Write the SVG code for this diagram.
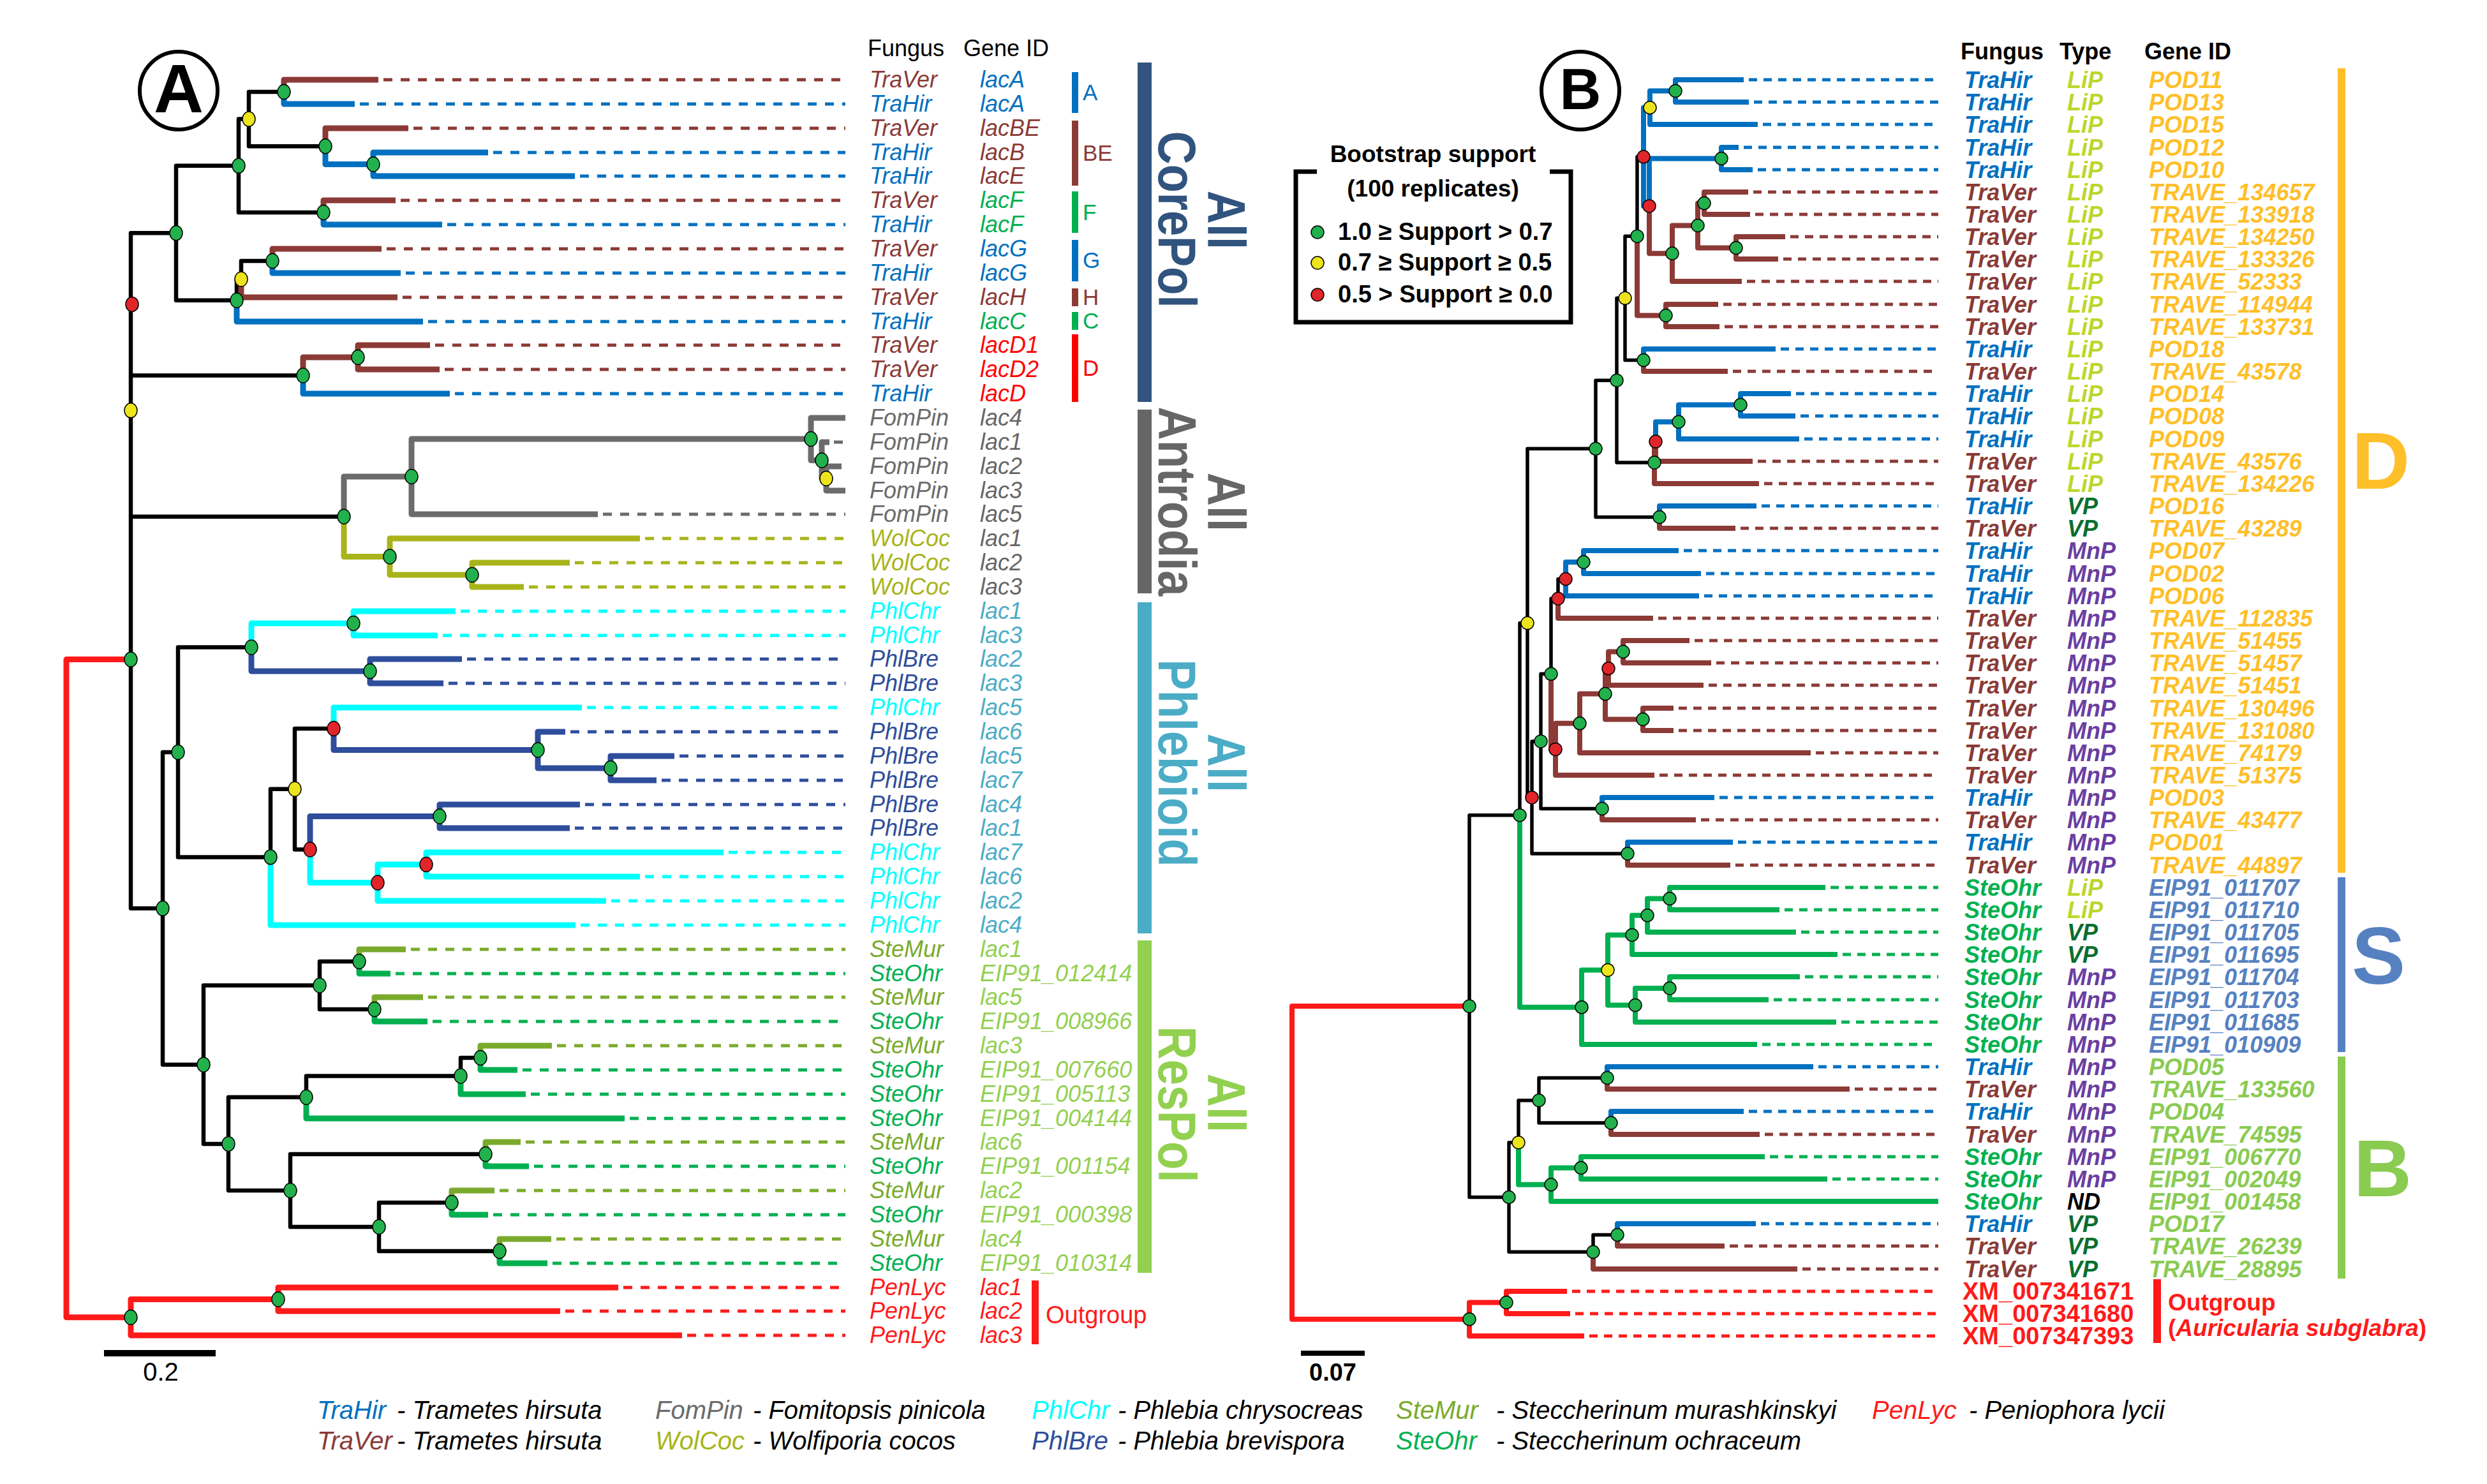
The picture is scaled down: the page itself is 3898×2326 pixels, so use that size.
<svg xmlns="http://www.w3.org/2000/svg" width="3898" height="2326" viewBox="0 0 3898 2326">
<style>
text{font-family:"Liberation Sans",Arial,sans-serif}
.la{font-size:36px;font-style:italic}
.lb{font-size:36px;font-style:italic;font-weight:bold}
.hd{font-size:36px}
.hb{font-size:36px;font-weight:bold}
.big{font-size:84px;font-weight:bold}
.ft{font-size:40px;font-style:italic}
.b{fill:none;stroke-width:9;stroke-linejoin:round}
.k{stroke:#000;stroke-width:6.5}
#tree-b .b{stroke-width:8}
#tree-b .k{stroke-width:5.5}
.d{fill:none;stroke-width:5;stroke-dasharray:14 13}
.db{fill:none;stroke-width:5;stroke-dasharray:13 10}
.tv{stroke:#8B3A36}.th{stroke:#0070C0}.fp{stroke:#6B6B6B}.wc{stroke:#A8B41A}.pc{stroke:#00FFFF}.pb{stroke:#2E4D9B}.sm{stroke:#7AAA2C}.so{stroke:#00B050}.pl{stroke:#FF1A1A}
.dots ellipse,.dots circle{stroke:#000;stroke-width:1.5}
.g{fill:#22B14C}.y{fill:#EDE51C}.r{fill:#E0262A}
.ctv{fill:#8B3A36}.cth{fill:#0070C0}.cfp{fill:#6B6B6B}.cwc{fill:#A8B41A}.cpc{fill:#00FFFF}.cpb{fill:#2E4D9B}.csm{fill:#7AAA2C}.cso{fill:#00B050}.cpl{fill:#FF1A1A}
.cred{fill:#FF0000}.cgr{fill:#666666}.cteal{fill:#4BACC6}.clg{fill:#92D050}.cgrn{fill:#00B050}
.clip{fill:#BCD62C}.cvp{fill:#0A6E2E}.cmnp{fill:#6A3EA1}.cnd{fill:#000}.cD{fill:#FFBF2A}.cS{fill:#5681C0}.cB{fill:#8ACB52}
</style>
<rect width="3898" height="2326" fill="#fff"/>

<!-- ================= PANEL A ================= -->
<g id="label-a">
<circle cx="280" cy="142" r="61" fill="none" stroke="#000" stroke-width="6"/>
<text x="280" y="176" font-size="108" font-weight="bold" text-anchor="middle">A</text>
</g>
<g id="header-a" class="hd"><text x="1360" y="88">Fungus</text><text x="1510" y="88">Gene ID</text></g>

<g id="tree-a">
<path class="b k" d="M390 186.6V144H445M390 186.6V229.25H510M374 259.8V186.6H390M374 259.8V333H507M378 437.5V409H427M371 470.75V437.5H378M276 365.3V259.8H374M276 365.3V470.75H371M205 476.9V365.3H276M205 476.9V588.5H475M205 643.3V476.9M205 643.3V809.75H539M462 1236.75V1142H523M462 1236.75V1331.5H486M424 1343.4V1236.75H462M279 1179V1014.5H394M279 1179V1343.4H424M501 1544.5V1507H563M501 1544.5V1582H587M722 1686.5V1658H753M480 1719.75V1686.5H722M594 1923V1885H708M594 1923V1961H783M455 1866V1809H761M455 1866V1923H594M358 1792.9V1719.75H480M358 1792.9V1866H455M319 1668.7V1544.5H501M319 1668.7V1792.9H358M255 1423.85V1179H279M255 1423.85V1668.7H319M205 1033.6V643.3M205 1033.6V1423.85H255"/>
<path class="b tv" d="M445 144V125H593M510 229.25V201H640M507 333V314H620M427 409V390H598M378 437.5V466H623M561 560V541H674M561 560V579H689M475 588.5V560H561"/>
<path class="b th" d="M445 144V163H556M585 257.5V239H765M585 257.5V276H901M510 229.25V257.5H585M507 333V352H693M427 409V428H628M371 470.75V504H663M475 588.5V617H705"/>
<path class="b fp" stroke-width="7" d="M1295 750V731H1319M1295 750V769H1325M1288 721.5V693H1300M1288 721.5V750H1295M1271 688V655H1325M1271 688V721.5H1288M645 747V688H1271M645 747V806H937M539 809.75V747H645"/>
<path class="b wc" d="M740 901V882H893M740 901V920H821M611 872.5V844H1003M611 872.5V901H740M539 809.75V872.5H611"/>
<path class="b pc" d="M554 977V958H714M554 977V996H686M394 1014.5V977H554M523 1142V1109H912M668 1355V1336H1134M668 1355V1374H1003M592 1383.5V1355H668M592 1383.5V1412H950M486 1331.5V1383.5H592M424 1343.4V1450H902"/>
<path class="b pb" d="M580 1052V1033H724M580 1052V1071H695M394 1014.5V1052H580M957 1204V1185H1057M957 1204V1223H1029M843 1175.5V1147H886M843 1175.5V1204H957M523 1142V1175.5H843M689 1279.5V1261H909M689 1279.5V1298H893M486 1331.5V1279.5H689"/>
<path class="b sm" d="M563 1507V1488H636M587 1582V1563H663M753 1658V1639H865M761 1809V1790H816M708 1885V1866H775M783 1961V1942H864"/>
<path class="b so" d="M563 1507V1526H612M587 1582V1601H670M753 1658V1677H811M722 1686.5V1715H824M480 1719.75V1753H979M761 1809V1828H829M708 1885V1904H765M783 1961V1980H858"/>
<path class="b pl" d="M436 2036.5V2018H969M436 2036.5V2055H878M205 2064.75V2036.5H436M205 2064.75V2093H1069"/>
<path class="b pl" stroke-width="8" d="M205 1033.6H104V2064.75H205"/>
<path class="d tv" d="M601 125H1325M648 201H1325M628 314H1325M606 390H1325M631 466H1325M682 541H1325M697 579H1325"/>
<path class="d th" d="M564 163H1325M773 239H1325M909 276H1325M701 352H1325M636 428H1325M671 504H1325M713 617H1325"/>
<path class="d fp" d="M1307 693H1325M945 806H1325"/>
<path class="d wc" d="M1011 844H1325M901 882H1325M829 920H1325"/>
<path class="d pc" d="M722 958H1325M694 996H1325M920 1109H1325M1142 1336H1325M1011 1374H1325M958 1412H1325M910 1450H1325"/>
<path class="d pb" d="M732 1033H1325M703 1071H1325M894 1147H1325M1065 1185H1325M1037 1223H1325M917 1261H1325M901 1298H1325"/>
<path class="d sm" d="M644 1488H1325M671 1563H1325M873 1639H1325M824 1790H1325M783 1866H1325M872 1942H1325"/>
<path class="d so" d="M620 1526H1325M678 1601H1325M819 1677H1325M832 1715H1325M987 1753H1325M837 1828H1325M773 1904H1325M866 1980H1325"/>
<path class="d pl" d="M977 2018H1325M886 2055H1325M1077 2093H1325"/>
</g>

<g id="nodes-a" class="dots">
<ellipse class="g" cx="445" cy="144" rx="10" ry="11.5"/><ellipse class="g" cx="585" cy="257.5" rx="10" ry="11.5"/><ellipse class="g" cx="510" cy="229.25" rx="10" ry="11.5"/><ellipse class="y" cx="390" cy="186.6" rx="10" ry="11.5"/><ellipse class="g" cx="507" cy="333" rx="10" ry="11.5"/><ellipse class="g" cx="374" cy="259.8" rx="10" ry="11.5"/><ellipse class="g" cx="427" cy="409" rx="10" ry="11.5"/><ellipse class="y" cx="378" cy="437.5" rx="10" ry="11.5"/><ellipse class="g" cx="371" cy="470.75" rx="10" ry="11.5"/><ellipse class="g" cx="276" cy="365.3" rx="10" ry="11.5"/><ellipse class="g" cx="561" cy="560" rx="10" ry="11.5"/><ellipse class="g" cx="475" cy="588.5" rx="10" ry="11.5"/><ellipse class="r" cx="207" cy="476.9" rx="10" ry="11.5"/><ellipse class="y" cx="205" cy="643.3" rx="10" ry="11.5"/><ellipse class="g" cx="205" cy="1033.6" rx="10" ry="11.5"/>
<ellipse class="g" cx="1271" cy="688" rx="10" ry="11.5"/><ellipse class="g" cx="1288" cy="721.5" rx="10" ry="11.5"/><ellipse class="y" cx="1295" cy="750" rx="10" ry="11.5"/><ellipse class="g" cx="645" cy="747" rx="10" ry="11.5"/><ellipse class="g" cx="611" cy="872.5" rx="10" ry="11.5"/><ellipse class="g" cx="740" cy="901" rx="10" ry="11.5"/><ellipse class="g" cx="539" cy="809.75" rx="10" ry="11.5"/>
<ellipse class="g" cx="554" cy="977" rx="10" ry="11.5"/><ellipse class="g" cx="580" cy="1052" rx="10" ry="11.5"/><ellipse class="g" cx="394" cy="1014.5" rx="10" ry="11.5"/><ellipse class="r" cx="523" cy="1142" rx="10" ry="11.5"/><ellipse class="g" cx="843" cy="1175.5" rx="10" ry="11.5"/><ellipse class="g" cx="957" cy="1204" rx="10" ry="11.5"/><ellipse class="y" cx="462" cy="1236.75" rx="10" ry="11.5"/><ellipse class="r" cx="486" cy="1331.5" rx="10" ry="11.5"/><ellipse class="g" cx="689" cy="1279.5" rx="10" ry="11.5"/><ellipse class="r" cx="592" cy="1383.5" rx="10" ry="11.5"/><ellipse class="r" cx="668" cy="1355" rx="10" ry="11.5"/><ellipse class="g" cx="424" cy="1343.4" rx="10" ry="11.5"/><ellipse class="g" cx="279" cy="1179" rx="10" ry="11.5"/>
<ellipse class="g" cx="563" cy="1507" rx="10" ry="11.5"/><ellipse class="g" cx="587" cy="1582" rx="10" ry="11.5"/><ellipse class="g" cx="501" cy="1544.5" rx="10" ry="11.5"/><ellipse class="g" cx="753" cy="1658" rx="10" ry="11.5"/><ellipse class="g" cx="722" cy="1686.5" rx="10" ry="11.5"/><ellipse class="g" cx="480" cy="1719.75" rx="10" ry="11.5"/><ellipse class="g" cx="761" cy="1809" rx="10" ry="11.5"/><ellipse class="g" cx="708" cy="1885" rx="10" ry="11.5"/><ellipse class="g" cx="783" cy="1961" rx="10" ry="11.5"/><ellipse class="g" cx="594" cy="1923" rx="10" ry="11.5"/><ellipse class="g" cx="455" cy="1866" rx="10" ry="11.5"/><ellipse class="g" cx="358" cy="1792.9" rx="10" ry="11.5"/><ellipse class="g" cx="319" cy="1668.7" rx="10" ry="11.5"/><ellipse class="g" cx="255" cy="1423.85" rx="10" ry="11.5"/>
<ellipse class="g" cx="436" cy="2036.5" rx="10" ry="11.5"/><ellipse class="g" cx="205" cy="2064.75" rx="10" ry="11.5"/>
</g>

<g id="leaves-a" class="la">
<g id="a-r0"><text y="137"><tspan x="1363" class="ctv">TraVer</tspan><tspan x="1536" class="cth">lacA</tspan></text></g>
<g id="a-r1"><text y="175"><tspan x="1363" class="cth">TraHir</tspan><tspan x="1536" class="cth">lacA</tspan></text></g>
<g id="a-r2"><text y="213"><tspan x="1363" class="ctv">TraVer</tspan><tspan x="1536" class="ctv">lacBE</tspan></text></g>
<g id="a-r3"><text y="251"><tspan x="1363" class="cth">TraHir</tspan><tspan x="1536" class="ctv">lacB</tspan></text></g>
<g id="a-r4"><text y="288"><tspan x="1363" class="cth">TraHir</tspan><tspan x="1536" class="ctv">lacE</tspan></text></g>
<g id="a-r5"><text y="326"><tspan x="1363" class="ctv">TraVer</tspan><tspan x="1536" class="cgrn">lacF</tspan></text></g>
<g id="a-r6"><text y="364"><tspan x="1363" class="cth">TraHir</tspan><tspan x="1536" class="cgrn">lacF</tspan></text></g>
<g id="a-r7"><text y="402"><tspan x="1363" class="ctv">TraVer</tspan><tspan x="1536" class="cth">lacG</tspan></text></g>
<g id="a-r8"><text y="440"><tspan x="1363" class="cth">TraHir</tspan><tspan x="1536" class="cth">lacG</tspan></text></g>
<g id="a-r9"><text y="478"><tspan x="1363" class="ctv">TraVer</tspan><tspan x="1536" class="ctv">lacH</tspan></text></g>
<g id="a-r10"><text y="516"><tspan x="1363" class="cth">TraHir</tspan><tspan x="1536" class="cgrn">lacC</tspan></text></g>
<g id="a-r11"><text y="553"><tspan x="1363" class="ctv">TraVer</tspan><tspan x="1536" class="cred">lacD1</tspan></text></g>
<g id="a-r12"><text y="591"><tspan x="1363" class="ctv">TraVer</tspan><tspan x="1536" class="cred">lacD2</tspan></text></g>
<g id="a-r13"><text y="629"><tspan x="1363" class="cth">TraHir</tspan><tspan x="1536" class="cred">lacD</tspan></text></g>
<g id="a-r14"><text y="667"><tspan x="1363" class="cfp">FomPin</tspan><tspan x="1536" class="cgr">lac4</tspan></text></g>
<g id="a-r15"><text y="705"><tspan x="1363" class="cfp">FomPin</tspan><tspan x="1536" class="cgr">lac1</tspan></text></g>
<g id="a-r16"><text y="743"><tspan x="1363" class="cfp">FomPin</tspan><tspan x="1536" class="cgr">lac2</tspan></text></g>
<g id="a-r17"><text y="781"><tspan x="1363" class="cfp">FomPin</tspan><tspan x="1536" class="cgr">lac3</tspan></text></g>
<g id="a-r18"><text y="818"><tspan x="1363" class="cfp">FomPin</tspan><tspan x="1536" class="cgr">lac5</tspan></text></g>
<g id="a-r19"><text y="856"><tspan x="1363" class="cwc">WolCoc</tspan><tspan x="1536" class="cgr">lac1</tspan></text></g>
<g id="a-r20"><text y="894"><tspan x="1363" class="cwc">WolCoc</tspan><tspan x="1536" class="cgr">lac2</tspan></text></g>
<g id="a-r21"><text y="932"><tspan x="1363" class="cwc">WolCoc</tspan><tspan x="1536" class="cgr">lac3</tspan></text></g>
<g id="a-r22"><text y="970"><tspan x="1363" class="cpc">PhlChr</tspan><tspan x="1536" class="cteal">lac1</tspan></text></g>
<g id="a-r23"><text y="1008"><tspan x="1363" class="cpc">PhlChr</tspan><tspan x="1536" class="cteal">lac3</tspan></text></g>
<g id="a-r24"><text y="1045"><tspan x="1363" class="cpb">PhlBre</tspan><tspan x="1536" class="cteal">lac2</tspan></text></g>
<g id="a-r25"><text y="1083"><tspan x="1363" class="cpb">PhlBre</tspan><tspan x="1536" class="cteal">lac3</tspan></text></g>
<g id="a-r26"><text y="1121"><tspan x="1363" class="cpc">PhlChr</tspan><tspan x="1536" class="cteal">lac5</tspan></text></g>
<g id="a-r27"><text y="1159"><tspan x="1363" class="cpb">PhlBre</tspan><tspan x="1536" class="cteal">lac6</tspan></text></g>
<g id="a-r28"><text y="1197"><tspan x="1363" class="cpb">PhlBre</tspan><tspan x="1536" class="cteal">lac5</tspan></text></g>
<g id="a-r29"><text y="1235"><tspan x="1363" class="cpb">PhlBre</tspan><tspan x="1536" class="cteal">lac7</tspan></text></g>
<g id="a-r30"><text y="1273"><tspan x="1363" class="cpb">PhlBre</tspan><tspan x="1536" class="cteal">lac4</tspan></text></g>
<g id="a-r31"><text y="1310"><tspan x="1363" class="cpb">PhlBre</tspan><tspan x="1536" class="cteal">lac1</tspan></text></g>
<g id="a-r32"><text y="1348"><tspan x="1363" class="cpc">PhlChr</tspan><tspan x="1536" class="cteal">lac7</tspan></text></g>
<g id="a-r33"><text y="1386"><tspan x="1363" class="cpc">PhlChr</tspan><tspan x="1536" class="cteal">lac6</tspan></text></g>
<g id="a-r34"><text y="1424"><tspan x="1363" class="cpc">PhlChr</tspan><tspan x="1536" class="cteal">lac2</tspan></text></g>
<g id="a-r35"><text y="1462"><tspan x="1363" class="cpc">PhlChr</tspan><tspan x="1536" class="cteal">lac4</tspan></text></g>
<g id="a-r36"><text y="1500"><tspan x="1363" class="csm">SteMur</tspan><tspan x="1536" class="clg">lac1</tspan></text></g>
<g id="a-r37"><text y="1538"><tspan x="1363" class="cso">SteOhr</tspan><tspan x="1536" class="clg">EIP91_012414</tspan></text></g>
<g id="a-r38"><text y="1575"><tspan x="1363" class="csm">SteMur</tspan><tspan x="1536" class="clg">lac5</tspan></text></g>
<g id="a-r39"><text y="1613"><tspan x="1363" class="cso">SteOhr</tspan><tspan x="1536" class="clg">EIP91_008966</tspan></text></g>
<g id="a-r40"><text y="1651"><tspan x="1363" class="csm">SteMur</tspan><tspan x="1536" class="clg">lac3</tspan></text></g>
<g id="a-r41"><text y="1689"><tspan x="1363" class="cso">SteOhr</tspan><tspan x="1536" class="clg">EIP91_007660</tspan></text></g>
<g id="a-r42"><text y="1727"><tspan x="1363" class="cso">SteOhr</tspan><tspan x="1536" class="clg">EIP91_005113</tspan></text></g>
<g id="a-r43"><text y="1765"><tspan x="1363" class="cso">SteOhr</tspan><tspan x="1536" class="clg">EIP91_004144</tspan></text></g>
<g id="a-r44"><text y="1802"><tspan x="1363" class="csm">SteMur</tspan><tspan x="1536" class="clg">lac6</tspan></text></g>
<g id="a-r45"><text y="1840"><tspan x="1363" class="cso">SteOhr</tspan><tspan x="1536" class="clg">EIP91_001154</tspan></text></g>
<g id="a-r46"><text y="1878"><tspan x="1363" class="csm">SteMur</tspan><tspan x="1536" class="clg">lac2</tspan></text></g>
<g id="a-r47"><text y="1916"><tspan x="1363" class="cso">SteOhr</tspan><tspan x="1536" class="clg">EIP91_000398</tspan></text></g>
<g id="a-r48"><text y="1954"><tspan x="1363" class="csm">SteMur</tspan><tspan x="1536" class="clg">lac4</tspan></text></g>
<g id="a-r49"><text y="1992"><tspan x="1363" class="cso">SteOhr</tspan><tspan x="1536" class="clg">EIP91_010314</tspan></text></g>
<g id="a-r50"><text y="2030"><tspan x="1363" class="cpl">PenLyc</tspan><tspan x="1536" class="cpl">lac1</tspan></text></g>
<g id="a-r51"><text y="2067"><tspan x="1363" class="cpl">PenLyc</tspan><tspan x="1536" class="cpl">lac2</tspan></text></g>
<g id="a-r52"><text y="2105"><tspan x="1363" class="cpl">PenLyc</tspan><tspan x="1536" class="cpl">lac3</tspan></text></g>
</g>

<g id="groups-a" font-size="35">
<rect x="1680" y="113" width="10" height="64" fill="#0070C0"/><text x="1697" y="157" fill="#0070C0">A</text>
<rect x="1680" y="189" width="10" height="102" fill="#8B3A36"/><text x="1697" y="252" fill="#8B3A36">BE</text>
<rect x="1680" y="300" width="10" height="65" fill="#00B050"/><text x="1697" y="345" fill="#00B050">F</text>
<rect x="1680" y="376" width="10" height="65" fill="#0070C0"/><text x="1697" y="420" fill="#0070C0">G</text>
<rect x="1680" y="452" width="10" height="28" fill="#8B3A36"/><text x="1697" y="478" fill="#8B3A36">H</text>
<rect x="1680" y="489" width="10" height="28" fill="#00B050"/><text x="1697" y="515" fill="#00B050">C</text>
<rect x="1680" y="524" width="10" height="106" fill="#FF0000"/><text x="1697" y="589" fill="#FF0000">D</text>
</g>

<g id="clade-corepol" fill="#31547E">
<rect x="1783" y="98" width="22" height="532"/>
<text class="big" text-anchor="middle" transform="translate(1816 344) rotate(90) scale(0.86 1)">CorePol</text>
<text class="big" text-anchor="middle" transform="translate(1893 345) rotate(90) scale(0.86 1)">All</text>
</g>
<g id="clade-antrodia" fill="#666666">
<rect x="1783" y="642" width="22" height="288"/>
<text class="big" text-anchor="middle" transform="translate(1816 786) rotate(90) scale(0.86 1)">Antrodia</text>
<text class="big" text-anchor="middle" transform="translate(1893 787) rotate(90) scale(0.86 1)">All</text>
</g>
<g id="clade-phlebioid" fill="#4BACC6">
<rect x="1783" y="944" width="22" height="519"/>
<text class="big" text-anchor="middle" transform="translate(1816 1196) rotate(90) scale(0.86 1)">Phlebioid</text>
<text class="big" text-anchor="middle" transform="translate(1893 1196) rotate(90) scale(0.86 1)">All</text>
</g>
<g id="clade-respol" fill="#92D050">
<rect x="1783" y="1474" width="22" height="521"/>
<text class="big" text-anchor="middle" transform="translate(1816 1731) rotate(90) scale(0.86 1)">ResPol</text>
<text class="big" text-anchor="middle" transform="translate(1893 1729) rotate(90) scale(0.86 1)">All</text>
</g>
<g id="outgroup-a" fill="#FF1A1A">
<rect x="1617" y="2007" width="11" height="100"/>
<text x="1639" y="2074" font-size="38">Outgroup</text>
</g>
<g id="scale-a">
<path d="M163 2121H338" stroke="#000" stroke-width="10"/>
<text x="252" y="2164" font-size="40" text-anchor="middle">0.2</text>
</g>

<!-- ================= PANEL B ================= -->
<g id="label-b">
<circle cx="2477" cy="142" r="61" fill="none" stroke="#000" stroke-width="6"/>
<text x="2477" y="171" font-size="90" font-weight="bold" text-anchor="middle">B</text>
</g>
<g id="legend" font-size="38" font-weight="bold">
<path d="M2064 269H2031V505H2462V269H2429" fill="none" stroke="#000" stroke-width="7"/>
<text x="2246" y="254" text-anchor="middle" font-size="37">Bootstrap support</text>
<text x="2246" y="308" text-anchor="middle" font-size="37">(100 replicates)</text>
<g class="dots"><circle class="g" cx="2065" cy="364" r="10"/><circle class="y" cx="2065" cy="412" r="10"/><circle class="r" cx="2065" cy="462" r="10"/></g>
<text x="2097" y="376">1.0 ≥ Support &gt; 0.7</text>
<text x="2097" y="424">0.7 ≥ Support ≥ 0.5</text>
<text x="2097" y="474">0.5 &gt; Support ≥ 0.0</text>
</g>
<g id="header-b" class="hb"><text x="3073" y="93">Fungus</text><text x="3228" y="93">Type</text><text x="3361" y="93">Gene ID</text></g>

<g id="tree-b">
<path class="b k" d="M2566 370.15V245.8H2576M2547 467.3V370.15H2566M2547 467.3V564.5H2576M2534 596.15V467.3H2547M2534 596.15V725H2593M2501 703.3V596.15H2534M2501 703.3V810.5H2601M2442 938.25V907.5H2454M2431 1056.3V938.25H2442M2415 1161.9V1056.3H2431M2415 1161.9V1267.5H2511M2401 1249.95V1161.9H2415M2401 1249.95V1338H2551M2394 976.6V703.3H2501M2394 976.6V1249.95H2401M2382 1277.65V976.6H2394M2412 1724.75V1689.5H2519M2412 1724.75V1760H2525M2380 1790.75V1724.75H2412M2497 1962.25V1935.5H2535M2365 1876.5V1790.75H2380M2365 1876.5V1962.25H2497M2303 1577.1V1277.65H2382M2303 1577.1V1876.5H2365"/>
<path class="b th" d="M2626 142.5V125H2733M2626 142.5V160H2741M2586 168.75V142.5H2626M2586 168.75V195H2755M2698 248.5V231H2725M2698 248.5V266H2747M2585 322.9V248.5H2698M2576 245.8V168.75H2586M2576 245.8V322.9H2585M2576 564.5V547H2783M2728 634.5V617H2807M2728 634.5V652H2814M2631 661.25V634.5H2728M2631 661.25V688H2820M2595 692.1V661.25H2631M2601 810.5V793H2753M2482 881V863H2631M2482 881V899H2666M2454 907.5V881H2482M2454 907.5V934H2663M2511 1267.5V1250H2687M2551 1338V1320H2716M2519 1689.5V1672H2842M2525 1760V1742H2733M2535 1935.5V1918H2752"/>
<path class="b tv" d="M2671 318.5V301H2740M2671 318.5V336H2743M2721 388.5V371H2798M2721 388.5V406H2787M2661 353.5V318.5H2671M2661 353.5V388.5H2721M2621 397.25V353.5H2661M2621 397.25V441H2730M2585 322.9V397.25H2621M2611 494.5V477H2693M2611 494.5V512H2695M2566 370.15V494.5H2611M2576 564.5V582H2708M2595 692.1V723H2747M2593 725V692.1H2595M2593 725V758H2757M2601 810.5V828H2720M2442 938.25V969H2591M2544 1021.5V1004H2648M2544 1021.5V1039H2682M2521 1047.75V1021.5H2544M2521 1047.75V1074H2670M2575 1127.5V1110H2623M2575 1127.5V1145H2623M2516 1087.6V1047.75H2521M2516 1087.6V1127.5H2575M2476 1133.8V1087.6H2516M2476 1133.8V1180H2838M2438 1174.4V1133.8H2476M2438 1174.4V1215H2593M2431 1056.3V1174.4H2438M2511 1267.5V1285H2658M2551 1338V1356H2712M2519 1689.5V1707H2899M2525 1760V1778H2758M2535 1935.5V1953H2703M2497 1962.25V1989H2817"/>
<path class="b so" d="M2617 1408.5V1391H2861M2617 1408.5V1426H2789M2582 1434.75V1408.5H2617M2582 1434.75V1461H2815M2558 1465.4V1434.75H2582M2558 1465.4V1496H2880M2617 1549V1531H2821M2617 1549V1567H2772M2563 1575.5V1549H2617M2563 1575.5V1602H2878M2520 1520.45V1465.4H2558M2520 1520.45V1575.5H2563M2479 1578.7V1520.45H2520M2479 1578.7V1637H2754M2382 1277.65V1578.7H2479M2478 1830.5V1813H2766M2478 1830.5V1848H2864M2431 1856.75V1830.5H2478M2431 1856.75V1883H3038M2380 1790.75V1856.75H2431"/>
<path class="b pl" d="M2361 2041.5V2024H2456M2361 2041.5V2059H2461M2303 2067.75V2041.5H2361M2303 2067.75V2094H2483"/>
<path class="b pl" d="M2303 1577.1H2025V2067.75H2303"/>
<path class="db th" d="M2741 125H3038M2749 160H3038M2763 195H3038M2733 231H3038M2755 266H3038M2791 547H3038M2815 617H3038M2822 652H3038M2828 688H3038M2761 793H3038M2639 863H3038M2674 899H3038M2671 934H3038M2695 1250H3038M2724 1320H3038M2850 1672H3038M2741 1742H3038M2760 1918H3038"/>
<path class="db tv" d="M2748 301H3038M2751 336H3038M2806 371H3038M2795 406H3038M2738 441H3038M2701 477H3038M2703 512H3038M2716 582H3038M2755 723H3038M2765 758H3038M2728 828H3038M2599 969H3038M2656 1004H3038M2690 1039H3038M2678 1074H3038M2631 1110H3038M2631 1145H3038M2846 1180H3038M2601 1215H3038M2666 1285H3038M2720 1356H3038M2907 1707H3038M2766 1778H3038M2711 1953H3038M2825 1989H3038"/>
<path class="db so" d="M2869 1391H3038M2797 1426H3038M2823 1461H3038M2888 1496H3038M2829 1531H3038M2780 1567H3038M2886 1602H3038M2762 1637H3038M2774 1813H3038M2872 1848H3038"/>
<path class="db pl" d="M2464 2024H3038M2469 2059H3038M2491 2094H3038"/>
</g>

<g id="nodes-b" class="dots">
<circle class="g" cx="2626" cy="142.5" r="10"/><circle class="y" cx="2586" cy="168.75" r="10"/><circle class="g" cx="2698" cy="248.5" r="10"/><circle class="g" cx="2671" cy="318.5" r="10"/><circle class="g" cx="2721" cy="388.5" r="10"/><circle class="g" cx="2661" cy="353.5" r="10"/><circle class="g" cx="2621" cy="397.25" r="10"/><circle class="r" cx="2585" cy="322.9" r="10"/><circle class="r" cx="2576" cy="245.8" r="10"/><circle class="g" cx="2611" cy="494.5" r="10"/><circle class="g" cx="2566" cy="370.15" r="10"/><circle class="g" cx="2576" cy="564.5" r="10"/><circle class="y" cx="2547" cy="467.3" r="10"/><circle class="g" cx="2728" cy="634.5" r="10"/><circle class="g" cx="2631" cy="661.25" r="10"/><circle class="r" cx="2595" cy="692.1" r="10"/><circle class="g" cx="2593" cy="725" r="10"/><circle class="g" cx="2534" cy="596.15" r="10"/><circle class="g" cx="2601" cy="810.5" r="10"/><circle class="g" cx="2501" cy="703.3" r="10"/>
<circle class="g" cx="2482" cy="881" r="10"/><circle class="r" cx="2454" cy="907.5" r="10"/><circle class="r" cx="2442" cy="938.25" r="10"/><circle class="g" cx="2544" cy="1021.5" r="10"/><circle class="r" cx="2521" cy="1047.75" r="10"/><circle class="g" cx="2575" cy="1127.5" r="10"/><circle class="g" cx="2516" cy="1087.6" r="10"/><circle class="g" cx="2476" cy="1133.8" r="10"/><circle class="r" cx="2438" cy="1174.4" r="10"/><circle class="g" cx="2431" cy="1056.3" r="10"/><circle class="g" cx="2511" cy="1267.5" r="10"/><circle class="g" cx="2415" cy="1161.9" r="10"/><circle class="g" cx="2551" cy="1338" r="10"/><circle class="r" cx="2401" cy="1249.95" r="10"/><circle class="y" cx="2394" cy="976.6" r="10"/>
<circle class="g" cx="2617" cy="1408.5" r="10"/><circle class="g" cx="2582" cy="1434.75" r="10"/><circle class="g" cx="2558" cy="1465.4" r="10"/><circle class="g" cx="2617" cy="1549" r="10"/><circle class="g" cx="2563" cy="1575.5" r="10"/><circle class="y" cx="2520" cy="1520.45" r="10"/><circle class="g" cx="2479" cy="1578.7" r="10"/><circle class="g" cx="2382" cy="1277.65" r="10"/>
<circle class="g" cx="2519" cy="1689.5" r="10"/><circle class="g" cx="2525" cy="1760" r="10"/><circle class="g" cx="2412" cy="1724.75" r="10"/><circle class="g" cx="2478" cy="1830.5" r="10"/><circle class="g" cx="2431" cy="1856.75" r="10"/><circle class="y" cx="2380" cy="1790.75" r="10"/><circle class="g" cx="2535" cy="1935.5" r="10"/><circle class="g" cx="2497" cy="1962.25" r="10"/><circle class="g" cx="2365" cy="1876.5" r="10"/><circle class="g" cx="2303" cy="1577.1" r="10"/>
<circle class="g" cx="2361" cy="2041.5" r="10"/><circle class="g" cx="2303" cy="2067.75" r="10"/>
</g>

<g id="leaves-b" class="lb">
<g id="b-r0"><text y="138"><tspan x="3079" class="cth">TraHir</tspan><tspan x="3240" class="clip">LiP</tspan><tspan x="3368" class="cD">POD11</tspan></text></g>
<g id="b-r1"><text y="173"><tspan x="3079" class="cth">TraHir</tspan><tspan x="3240" class="clip">LiP</tspan><tspan x="3368" class="cD">POD13</tspan></text></g>
<g id="b-r2"><text y="208"><tspan x="3079" class="cth">TraHir</tspan><tspan x="3240" class="clip">LiP</tspan><tspan x="3368" class="cD">POD15</tspan></text></g>
<g id="b-r3"><text y="244"><tspan x="3079" class="cth">TraHir</tspan><tspan x="3240" class="clip">LiP</tspan><tspan x="3368" class="cD">POD12</tspan></text></g>
<g id="b-r4"><text y="279"><tspan x="3079" class="cth">TraHir</tspan><tspan x="3240" class="clip">LiP</tspan><tspan x="3368" class="cD">POD10</tspan></text></g>
<g id="b-r5"><text y="314"><tspan x="3079" class="ctv">TraVer</tspan><tspan x="3240" class="clip">LiP</tspan><tspan x="3368" class="cD">TRAVE_134657</tspan></text></g>
<g id="b-r6"><text y="349"><tspan x="3079" class="ctv">TraVer</tspan><tspan x="3240" class="clip">LiP</tspan><tspan x="3368" class="cD">TRAVE_133918</tspan></text></g>
<g id="b-r7"><text y="384"><tspan x="3079" class="ctv">TraVer</tspan><tspan x="3240" class="clip">LiP</tspan><tspan x="3368" class="cD">TRAVE_134250</tspan></text></g>
<g id="b-r8"><text y="419"><tspan x="3079" class="ctv">TraVer</tspan><tspan x="3240" class="clip">LiP</tspan><tspan x="3368" class="cD">TRAVE_133326</tspan></text></g>
<g id="b-r9"><text y="454"><tspan x="3079" class="ctv">TraVer</tspan><tspan x="3240" class="clip">LiP</tspan><tspan x="3368" class="cD">TRAVE_52333</tspan></text></g>
<g id="b-r10"><text y="490"><tspan x="3079" class="ctv">TraVer</tspan><tspan x="3240" class="clip">LiP</tspan><tspan x="3368" class="cD">TRAVE_114944</tspan></text></g>
<g id="b-r11"><text y="525"><tspan x="3079" class="ctv">TraVer</tspan><tspan x="3240" class="clip">LiP</tspan><tspan x="3368" class="cD">TRAVE_133731</tspan></text></g>
<g id="b-r12"><text y="560"><tspan x="3079" class="cth">TraHir</tspan><tspan x="3240" class="clip">LiP</tspan><tspan x="3368" class="cD">POD18</tspan></text></g>
<g id="b-r13"><text y="595"><tspan x="3079" class="ctv">TraVer</tspan><tspan x="3240" class="clip">LiP</tspan><tspan x="3368" class="cD">TRAVE_43578</tspan></text></g>
<g id="b-r14"><text y="630"><tspan x="3079" class="cth">TraHir</tspan><tspan x="3240" class="clip">LiP</tspan><tspan x="3368" class="cD">POD14</tspan></text></g>
<g id="b-r15"><text y="665"><tspan x="3079" class="cth">TraHir</tspan><tspan x="3240" class="clip">LiP</tspan><tspan x="3368" class="cD">POD08</tspan></text></g>
<g id="b-r16"><text y="701"><tspan x="3079" class="cth">TraHir</tspan><tspan x="3240" class="clip">LiP</tspan><tspan x="3368" class="cD">POD09</tspan></text></g>
<g id="b-r17"><text y="736"><tspan x="3079" class="ctv">TraVer</tspan><tspan x="3240" class="clip">LiP</tspan><tspan x="3368" class="cD">TRAVE_43576</tspan></text></g>
<g id="b-r18"><text y="771"><tspan x="3079" class="ctv">TraVer</tspan><tspan x="3240" class="clip">LiP</tspan><tspan x="3368" class="cD">TRAVE_134226</tspan></text></g>
<g id="b-r19"><text y="806"><tspan x="3079" class="cth">TraHir</tspan><tspan x="3240" class="cvp">VP</tspan><tspan x="3368" class="cD">POD16</tspan></text></g>
<g id="b-r20"><text y="841"><tspan x="3079" class="ctv">TraVer</tspan><tspan x="3240" class="cvp">VP</tspan><tspan x="3368" class="cD">TRAVE_43289</tspan></text></g>
<g id="b-r21"><text y="876"><tspan x="3079" class="cth">TraHir</tspan><tspan x="3240" class="cmnp">MnP</tspan><tspan x="3368" class="cD">POD07</tspan></text></g>
<g id="b-r22"><text y="912"><tspan x="3079" class="cth">TraHir</tspan><tspan x="3240" class="cmnp">MnP</tspan><tspan x="3368" class="cD">POD02</tspan></text></g>
<g id="b-r23"><text y="947"><tspan x="3079" class="cth">TraHir</tspan><tspan x="3240" class="cmnp">MnP</tspan><tspan x="3368" class="cD">POD06</tspan></text></g>
<g id="b-r24"><text y="982"><tspan x="3079" class="ctv">TraVer</tspan><tspan x="3240" class="cmnp">MnP</tspan><tspan x="3368" class="cD">TRAVE_112835</tspan></text></g>
<g id="b-r25"><text y="1017"><tspan x="3079" class="ctv">TraVer</tspan><tspan x="3240" class="cmnp">MnP</tspan><tspan x="3368" class="cD">TRAVE_51455</tspan></text></g>
<g id="b-r26"><text y="1052"><tspan x="3079" class="ctv">TraVer</tspan><tspan x="3240" class="cmnp">MnP</tspan><tspan x="3368" class="cD">TRAVE_51457</tspan></text></g>
<g id="b-r27"><text y="1087"><tspan x="3079" class="ctv">TraVer</tspan><tspan x="3240" class="cmnp">MnP</tspan><tspan x="3368" class="cD">TRAVE_51451</tspan></text></g>
<g id="b-r28"><text y="1123"><tspan x="3079" class="ctv">TraVer</tspan><tspan x="3240" class="cmnp">MnP</tspan><tspan x="3368" class="cD">TRAVE_130496</tspan></text></g>
<g id="b-r29"><text y="1158"><tspan x="3079" class="ctv">TraVer</tspan><tspan x="3240" class="cmnp">MnP</tspan><tspan x="3368" class="cD">TRAVE_131080</tspan></text></g>
<g id="b-r30"><text y="1193"><tspan x="3079" class="ctv">TraVer</tspan><tspan x="3240" class="cmnp">MnP</tspan><tspan x="3368" class="cD">TRAVE_74179</tspan></text></g>
<g id="b-r31"><text y="1228"><tspan x="3079" class="ctv">TraVer</tspan><tspan x="3240" class="cmnp">MnP</tspan><tspan x="3368" class="cD">TRAVE_51375</tspan></text></g>
<g id="b-r32"><text y="1263"><tspan x="3079" class="cth">TraHir</tspan><tspan x="3240" class="cmnp">MnP</tspan><tspan x="3368" class="cD">POD03</tspan></text></g>
<g id="b-r33"><text y="1298"><tspan x="3079" class="ctv">TraVer</tspan><tspan x="3240" class="cmnp">MnP</tspan><tspan x="3368" class="cD">TRAVE_43477</tspan></text></g>
<g id="b-r34"><text y="1333"><tspan x="3079" class="cth">TraHir</tspan><tspan x="3240" class="cmnp">MnP</tspan><tspan x="3368" class="cD">POD01</tspan></text></g>
<g id="b-r35"><text y="1369"><tspan x="3079" class="ctv">TraVer</tspan><tspan x="3240" class="cmnp">MnP</tspan><tspan x="3368" class="cD">TRAVE_44897</tspan></text></g>
<g id="b-r36"><text y="1404"><tspan x="3079" class="cso">SteOhr</tspan><tspan x="3240" class="clip">LiP</tspan><tspan x="3368" class="cS">EIP91_011707</tspan></text></g>
<g id="b-r37"><text y="1439"><tspan x="3079" class="cso">SteOhr</tspan><tspan x="3240" class="clip">LiP</tspan><tspan x="3368" class="cS">EIP91_011710</tspan></text></g>
<g id="b-r38"><text y="1474"><tspan x="3079" class="cso">SteOhr</tspan><tspan x="3240" class="cvp">VP</tspan><tspan x="3368" class="cS">EIP91_011705</tspan></text></g>
<g id="b-r39"><text y="1509"><tspan x="3079" class="cso">SteOhr</tspan><tspan x="3240" class="cvp">VP</tspan><tspan x="3368" class="cS">EIP91_011695</tspan></text></g>
<g id="b-r40"><text y="1544"><tspan x="3079" class="cso">SteOhr</tspan><tspan x="3240" class="cmnp">MnP</tspan><tspan x="3368" class="cS">EIP91_011704</tspan></text></g>
<g id="b-r41"><text y="1580"><tspan x="3079" class="cso">SteOhr</tspan><tspan x="3240" class="cmnp">MnP</tspan><tspan x="3368" class="cS">EIP91_011703</tspan></text></g>
<g id="b-r42"><text y="1615"><tspan x="3079" class="cso">SteOhr</tspan><tspan x="3240" class="cmnp">MnP</tspan><tspan x="3368" class="cS">EIP91_011685</tspan></text></g>
<g id="b-r43"><text y="1650"><tspan x="3079" class="cso">SteOhr</tspan><tspan x="3240" class="cmnp">MnP</tspan><tspan x="3368" class="cS">EIP91_010909</tspan></text></g>
<g id="b-r44"><text y="1685"><tspan x="3079" class="cth">TraHir</tspan><tspan x="3240" class="cmnp">MnP</tspan><tspan x="3368" class="cB">POD05</tspan></text></g>
<g id="b-r45"><text y="1720"><tspan x="3079" class="ctv">TraVer</tspan><tspan x="3240" class="cmnp">MnP</tspan><tspan x="3368" class="cB">TRAVE_133560</tspan></text></g>
<g id="b-r46"><text y="1755"><tspan x="3079" class="cth">TraHir</tspan><tspan x="3240" class="cmnp">MnP</tspan><tspan x="3368" class="cB">POD04</tspan></text></g>
<g id="b-r47"><text y="1791"><tspan x="3079" class="ctv">TraVer</tspan><tspan x="3240" class="cmnp">MnP</tspan><tspan x="3368" class="cB">TRAVE_74595</tspan></text></g>
<g id="b-r48"><text y="1826"><tspan x="3079" class="cso">SteOhr</tspan><tspan x="3240" class="cmnp">MnP</tspan><tspan x="3368" class="cB">EIP91_006770</tspan></text></g>
<g id="b-r49"><text y="1861"><tspan x="3079" class="cso">SteOhr</tspan><tspan x="3240" class="cmnp">MnP</tspan><tspan x="3368" class="cB">EIP91_002049</tspan></text></g>
<g id="b-r50"><text y="1896"><tspan x="3079" class="cso">SteOhr</tspan><tspan x="3240" class="cnd">ND</tspan><tspan x="3368" class="cB">EIP91_001458</tspan></text></g>
<g id="b-r51"><text y="1931"><tspan x="3079" class="cth">TraHir</tspan><tspan x="3240" class="cvp">VP</tspan><tspan x="3368" class="cB">POD17</tspan></text></g>
<g id="b-r52"><text y="1966"><tspan x="3079" class="ctv">TraVer</tspan><tspan x="3240" class="cvp">VP</tspan><tspan x="3368" class="cB">TRAVE_26239</tspan></text></g>
<g id="b-r53"><text y="2002"><tspan x="3079" class="ctv">TraVer</tspan><tspan x="3240" class="cvp">VP</tspan><tspan x="3368" class="cB">TRAVE_28895</tspan></text></g>
</g>
<g id="outgroup-b" fill="#FF1A1A" font-weight="bold">
<text x="3076" y="2037" font-size="38">XM_007341671</text>
<text x="3076" y="2072" font-size="38">XM_007341680</text>
<text x="3076" y="2107" font-size="38">XM_007347393</text>
<rect x="3375" y="2005" width="12" height="100"/>
<text x="3398" y="2054" font-size="37">Outgroup</text>
<text x="3398" y="2094" font-size="37">(<tspan font-style="italic">Auricularia subglabra</tspan>)</text>
</g>
<g id="groups-b" font-size="126" font-weight="bold">
<rect x="3664" y="107" width="12" height="1261" fill="#FFBF2A"/><text x="3686" y="766" fill="#FFBF2A">D</text>
<rect x="3664" y="1375" width="12" height="274" fill="#5681C0"/><text x="3686" y="1542" fill="#5681C0">S</text>
<rect x="3664" y="1656" width="12" height="348" fill="#8ACB52"/><text x="3689" y="1875" fill="#8ACB52">B</text>
</g>
<g id="scale-b">
<path d="M2039 2121H2139" stroke="#000" stroke-width="8"/>
<text x="2089" y="2164" font-size="38" font-weight="bold" text-anchor="middle">0.07</text>
</g>

<!-- ================= FOOTER ================= -->
<g id="footer" class="ft">
<text x="497" y="2224" class="cth">TraHir</text><text x="622" y="2224">- Trametes hirsuta</text>
<text x="497" y="2272" class="ctv">TraVer</text><text x="622" y="2272">- Trametes hirsuta</text>
<text x="1027" y="2224" class="cfp">FomPin</text><text x="1180" y="2224">- Fomitopsis pinicola</text>
<text x="1027" y="2272" class="cwc">WolCoc</text><text x="1180" y="2272">- Wolfiporia cocos</text>
<text x="1617" y="2224" class="cpc">PhlChr</text><text x="1752" y="2224">- Phlebia chrysocreas</text>
<text x="1617" y="2272" class="cpb">PhlBre</text><text x="1752" y="2272">- Phlebia brevispora</text>
<text x="2188" y="2224" class="csm">SteMur</text><text x="2345" y="2224">- Steccherinum murashkinskyi</text>
<text x="2188" y="2272" class="cso">SteOhr</text><text x="2345" y="2272">- Steccherinum ochraceum</text>
<text x="2934" y="2224" class="cpl">PenLyc</text><text x="3086" y="2224">- Peniophora lycii</text>
</g>
</svg>
